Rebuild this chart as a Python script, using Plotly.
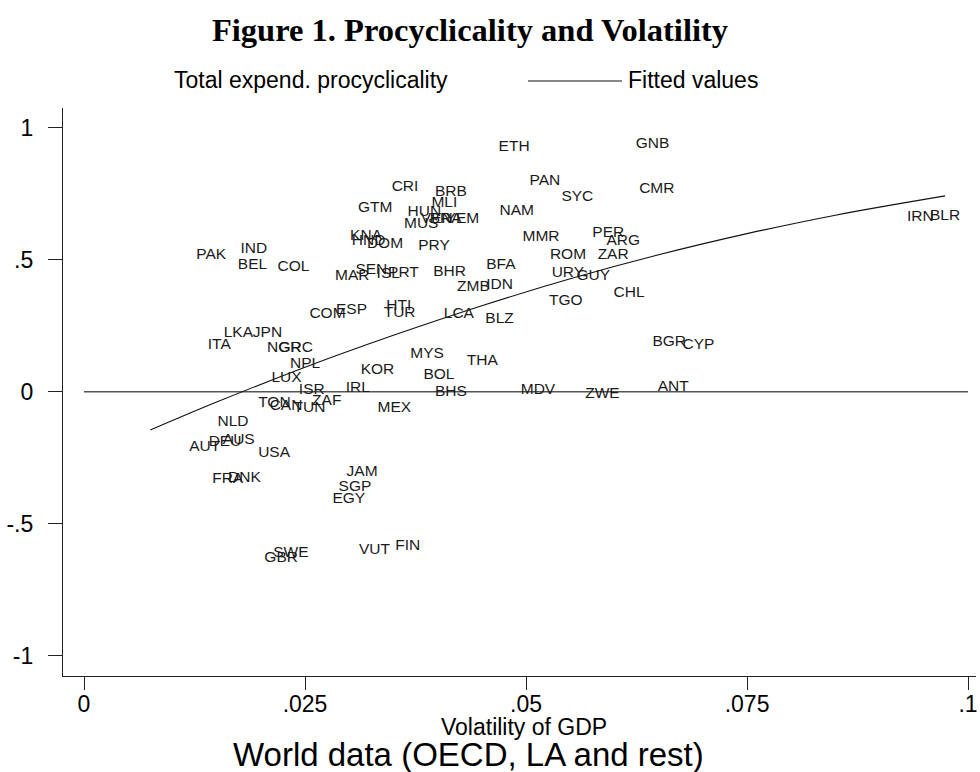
import plotly.graph_objects as go

# Country codes with GDP volatility (x) and total expenditure procyclicality (y)
countries = ["ETH","GNB","PAN","SYC","CMR","CRI","BRB","MLI","GTM","HUN",
             "MUS","VEN","BRA","YEM","KNA","HND","DOM","PRY","NAM","MMR",
             "PER","ARG","ROM","ZAR","PAK","IND","BEL","COL","MAR","SEN",
             "ISL","PRT","BHR","BFA","URY","GUY","ZMB","IDN","CHL","TGO",
             "COM","ESP","HTI","TUR","LCA","BLZ","LKA","JPN","ITA","NGR",
             "GRC","NPL","LUX","KOR","MYS","THA","BOL","BHS","ISR","IRL",
             "MDV","ZWE","ANT","BGR","CYP","TON","CAN","TUN","ZAF","MEX",
             "NLD","AUS","DEU","AUT","USA","FRA","DNK","JAM","SGP","EGY",
             "SWE","GBR","VUT","FIN","IRN","BLR"]
volatility = [0.0469,0.0624,0.0504,0.0540,0.0628,0.0348,0.0397,0.0393,0.0310,0.0366,
              0.0362,0.0381,0.0391,0.0409,0.0301,0.0303,0.0320,0.0378,0.0470,0.0496,
              0.0575,0.0591,0.0527,0.0581,0.0127,0.0177,0.0174,0.0219,0.0284,0.0307,
              0.0331,0.0344,0.0395,0.0455,0.0529,0.0557,0.0422,0.0455,0.0599,0.0526,
              0.0255,0.0285,0.0342,0.0339,0.0407,0.0454,0.0158,0.0191,0.0140,0.0207,
              0.0220,0.0233,0.0212,0.0313,0.0369,0.0433,0.0384,0.0397,0.0243,0.0296,
              0.0494,0.0567,0.0649,0.0643,0.0677,0.0197,0.0210,0.0237,0.0258,0.0332,
              0.0151,0.0157,0.0141,0.0119,0.0197,0.0145,0.0163,0.0297,0.0288,0.0281,
              0.0214,0.0204,0.0311,0.0352,0.0931,0.0957]
procyclicality = [0.928,0.940,0.798,0.736,0.766,0.776,0.757,0.714,0.694,0.682,
                  0.637,0.655,0.655,0.655,0.590,0.571,0.560,0.553,0.684,0.585,
                  0.602,0.571,0.518,0.518,0.517,0.542,0.479,0.472,0.440,0.461,
                  0.447,0.449,0.452,0.481,0.449,0.440,0.398,0.405,0.374,0.342,
                  0.293,0.311,0.323,0.298,0.293,0.276,0.223,0.223,0.176,0.165,
                  0.165,0.106,0.052,0.084,0.141,0.116,0.062,-0.001,0.008,0.014,
                  0.008,-0.010,0.019,0.187,0.175,-0.042,-0.053,-0.061,-0.037,-0.062,
                  -0.114,-0.182,-0.189,-0.210,-0.231,-0.329,-0.327,-0.304,-0.361,-0.406,
                  -0.610,-0.629,-0.598,-0.583,0.663,0.667]

# Fitted values curve
fit_x = [0.0075, 0.015, 0.025, 0.035, 0.045, 0.055, 0.065, 0.075, 0.085, 0.0974]
fit_y = [-0.145, -0.039, 0.093, 0.214, 0.326, 0.428, 0.519, 0.599, 0.669, 0.742]

# Horizontal reference line at zero
ref_x = [0.0, 0.1]
ref_y = [0.0, 0.0]

x_ticks = [0, 0.025, 0.05, 0.075, 0.1]
x_ticktext = ["0", ".025", ".05", ".075", ".1"]
y_ticks = [-1, -0.5, 0, 0.5, 1]
y_ticktext = ["-1", "-.5", "0", ".5", "1"]

SANS = "Liberation Sans, Arial, sans-serif"
SERIF = "Liberation Serif, Times New Roman, serif"

fig = go.Figure()
fig.add_trace(go.Scatter(x=ref_x, y=ref_y, mode="lines",
                         line=dict(color="#555555", width=1.5),
                         showlegend=False, hoverinfo="skip"))
fig.add_trace(go.Scatter(x=fit_x, y=fit_y, mode="lines",
                         line=dict(color="#111111", width=1.1, shape="spline"),
                         name="Fitted values", showlegend=False))
fig.add_trace(go.Scatter(x=volatility, y=procyclicality, mode="text",
                         text=countries, textposition="middle right",
                         textfont=dict(family=SANS, size=15.5, color="#1a1a1a"),
                         name="Total expend. procyclicality", showlegend=False))

L, R, T, B = 63, 4, 108, 96
W, H = 980, 772
pw, ph = W - L - R, H - T - B

def px_x(px):
    return (px - L) / pw

def px_y(py):
    return (H - B - py) / ph

fig.update_layout(
    width=W, height=H,
    margin=dict(l=L, r=R, t=T, b=B, autoexpand=False),
    paper_bgcolor="white", plot_bgcolor="white",
    title=dict(text="<b>Figure 1. Procyclicality and Volatility</b>",
               x=470 / W, xanchor="center", y=1 - 30 / H, yanchor="middle",
               yref="container", xref="container",
               font=dict(family=SERIF, size=32.5, color="black")),
    xaxis=dict(range=[-0.002376, 0.1009], tickvals=x_ticks, ticktext=x_ticktext,
               showgrid=False, zeroline=False, showline=True, linecolor="#222222",
               linewidth=1.3, ticks="outside", ticklen=13, tickcolor="#222222",
               tickwidth=1.2, tickfont=dict(family=SANS, size=23, color="black"),
               ticklabelstandoff=-6, automargin=False),
    yaxis=dict(range=[-1.0765, 1.075], tickvals=y_ticks, ticktext=y_ticktext,
               showgrid=False, zeroline=False, showline=True, linecolor="#222222",
               linewidth=1.3, ticks="outside", ticklen=14, tickcolor="#222222",
               tickwidth=1.2, tickfont=dict(family=SANS, size=23, color="black"),
               ticklabelstandoff=10, automargin=False),
    showlegend=False,
    annotations=[
        dict(text="Volatility of GDP", xref="paper", yref="paper",
             x=px_x(524), y=px_y(727), xanchor="center", yanchor="middle",
             showarrow=False, font=dict(family=SANS, size=23, color="black")),
        dict(text="World data (OECD, LA and rest)", xref="paper", yref="paper",
             x=px_x(468), y=px_y(754), xanchor="center", yanchor="middle",
             showarrow=False, font=dict(family=SANS, size=33, color="black")),
        dict(text="Total expend. procyclicality", xref="paper", yref="paper",
             x=px_x(172), y=px_y(80), xanchor="left", yanchor="middle",
             showarrow=False, font=dict(family=SANS, size=23, color="black")),
        dict(text="Fitted values", xref="paper", yref="paper",
             x=px_x(626), y=px_y(80), xanchor="left", yanchor="middle",
             showarrow=False, font=dict(family=SANS, size=23, color="black")),
    ],
    shapes=[
        dict(type="line", xref="paper", yref="paper",
             x0=px_x(528), x1=px_x(622), y0=px_y(81), y1=px_y(81),
             line=dict(color="#111111", width=1.1)),
    ],
)

fig.write_html("out.html",
               config={"displayModeBar": False},
               post_script="document.body.style.margin='0px';"
                           "document.body.style.padding='0px';"
                           "document.body.style.overflow='hidden';")
